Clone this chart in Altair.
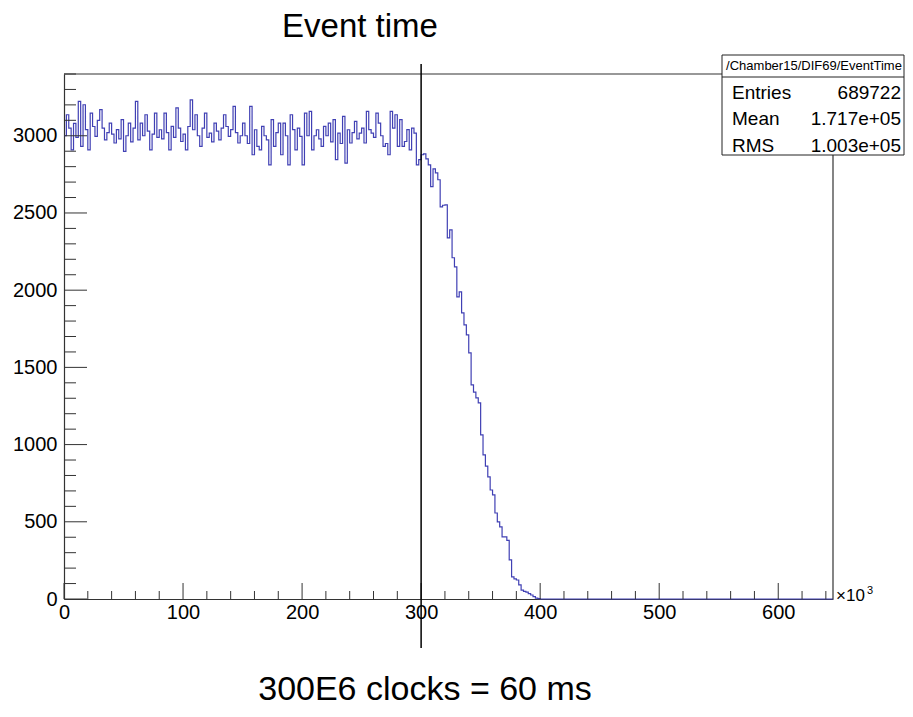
import altair as alt
import pandas as pd

# ---------------- data ----------------
BIN_WIDTH = 2000          # clock units per bin
X_MAX = 646000
Y_MAX = 3400

plateau_counts = [
    3000, 3136, 3050, 2909, 3080, 2990, 3223, 2931, 3201, 3040,
    2909, 3147, 3060, 2996, 3100, 3169, 3050, 2974, 3020, 3082,
    3010, 2953, 3040, 2980, 3104, 2899, 3000, 3082, 2960, 3050,
    3223, 2974, 3082, 3000, 3136, 3030, 2909, 3010, 3147, 2990,
    3039, 2980, 3147, 3020, 2909, 3061, 2990, 3180, 3050, 2963,
    3010, 2909, 3060, 3233, 3039, 3136, 3000, 2931, 3050, 3147,
    2990, 3017, 2960, 3082, 3030, 2974, 3050, 3136, 3060, 2996,
    3040, 3190, 3020, 2953, 3000, 3082, 3000, 2950, 3190, 2877,
    3039, 2931, 2909, 3061, 3000, 2974, 2812, 3104, 2931, 3020,
    3082, 2877, 3082, 3000, 2812, 3136, 3040, 2909, 3050, 2996,
    2812, 3147, 3000, 3158, 2909, 3000, 3039, 2980, 2931, 3061,
    3000, 3082, 2960, 3104, 2845, 3017, 2950, 3125, 2823, 3039,
    2953, 3020, 3093, 2980, 3017, 3050, 2953, 3158, 3040, 3017,
    2990, 3147, 3082, 3000, 2931, 2950, 2877, 3158, 3050, 3136,
    2931, 3104, 2931, 2963, 3040, 2909, 3050, 3017, 2812, 2845,
]
falloff_counts = [
    2877, 2883, 2850, 2812, 2670, 2786, 2760, 2715, 2540, 2550,
    2553, 2339, 2391, 2210, 2151, 1957, 1989, 1853, 1775, 1711,
    1594, 1387, 1340, 1302, 1270, 1063, 933, 860, 791, 706,
    674, 557, 500, 467, 402, 402, 380, 253, 143, 130,
    123, 91, 58, 50, 45, 35, 26, 15, 6, 2,
]
tail_counts = [0] * 123

x_major_ticks = [0, 100000, 200000, 300000, 400000, 500000, 600000]
x_minor_ticks = [v for v in range(20000, 646000, 20000) if v % 100000 != 0]
y_major_ticks = [0, 500, 1000, 1500, 2000, 2500, 3000]
y_minor_ticks = [v for v in range(100, 3401, 100) if v % 500 != 0]

marker_x = 300000

title_text = "Event time"
caption_text = "300E6 clocks = 60 ms"
stats_title = "/Chamber15/DIF69/EventTime"
stats_names = ["Entries", "Mean", "RMS"]
stats_values = ["689722", "1.717e+05", "1.003e+05"]

# ---------------- build ----------------
counts = plateau_counts + falloff_counts + tail_counts
edges = [i * BIN_WIDTH for i in range(len(counts))] + [X_MAX]
hist = pd.DataFrame({"edge": edges, "count": counts + [counts[-1]]})

W, H = 769, 525
FONT = "Liberation Sans"
FRAME = "#333333"

xs = alt.Scale(domain=[0, X_MAX], nice=False, zero=False)
ys = alt.Scale(domain=[0, Y_MAX], nice=False)

x_axis = alt.Axis(
    values=x_major_ticks, labelExpr="format(datum.value/1000, 'd')",
    ticks=False, grid=False, title=None, domainColor=FRAME, domainWidth=1.2,
    labelFont=FONT, labelFontSize=20, labelColor="black", labelPadding=3,
    labelFlush=False, labelOverlap=False)
y_axis = alt.Axis(
    values=y_major_ticks, format="d", ticks=False, grid=False, title=None,
    domainColor=FRAME, domainWidth=1.2,
    labelFont=FONT, labelFontSize=20, labelColor="black", labelPadding=7,
    labelFlush=False, labelOverlap=False)

one = alt.Data(values=[{}])

line = alt.Chart(hist).mark_line(
    interpolate="step-after", color="#4040b4", strokeWidth=1.2
).encode(
    x=alt.X("edge:Q", scale=xs, axis=x_axis),
    y=alt.Y("count:Q", scale=ys, axis=y_axis),
)

def xticks(vals, length):
    return alt.Chart(pd.DataFrame({"t": vals})).mark_rule(color=FRAME, strokeWidth=1).encode(
        x=alt.X("t:Q", scale=xs, axis=x_axis), y=alt.value(H), y2=alt.value(H - length))

def yticks(vals, length):
    return alt.Chart(pd.DataFrame({"t": vals})).mark_rule(color=FRAME, strokeWidth=1).encode(
        y=alt.Y("t:Q", scale=ys, axis=y_axis), x=alt.value(0), x2=alt.value(length))

frame_top = alt.Chart(one).mark_rule(color=FRAME, strokeWidth=1.2).encode(
    x=alt.value(0), x2=alt.value(W), y=alt.value(0))
frame_right = alt.Chart(one).mark_rule(color=FRAME, strokeWidth=1.2).encode(
    x=alt.value(W), y=alt.value(0), y2=alt.value(H))

marker = alt.Chart(pd.DataFrame({"t": [marker_x]})).mark_rule(color="black", strokeWidth=1.5).encode(
    x=alt.X("t:Q", scale=xs, axis=x_axis), y=alt.value(-10), y2=alt.value(574))

box = alt.Chart(one).mark_rect(fill="white", stroke="#222222", strokeWidth=1).encode(
    x=alt.value(658), x2=alt.value(840), y=alt.value(-19), y2=alt.value(81))
box_div = alt.Chart(one).mark_rule(color="#222222", strokeWidth=1).encode(
    x=alt.value(658), x2=alt.value(840), y=alt.value(3))

def txt(s, x, y, size, align="left", baseline="alphabetic"):
    return alt.Chart(one).mark_text(
        text=s, font=FONT, fontSize=size, color="black", align=align, baseline=baseline
    ).encode(x=alt.value(x), y=alt.value(y))

layers = [
    line,
    xticks(x_major_ticks, 16), xticks(x_minor_ticks, 8),
    yticks(y_major_ticks, 23), yticks(y_minor_ticks, 12),
    frame_top, frame_right, marker, box, box_div,
    txt(stats_title, 750, -4, 13, align="center"),
    txt(title_text, 296, -37, 33, align="center"),
    txt(caption_text, 361, 626, 34, align="center"),
    txt("\u00d710", 772, 527, 17),
    txt("3", 803, 520, 11),
]
for i, (n, v) in enumerate(zip(stats_names, stats_values)):
    yb = [25, 51, 78][i]
    layers.append(txt(n, 668, yb, 19))
    layers.append(txt(v, 837, yb, 19, align="right"))

chart = alt.layer(*layers).properties(
    width=W, height=H,
    padding={"left": 56, "top": 66, "right": 72, "bottom": 110},
    autosize=alt.AutoSizeParams(type="none"),
).configure_view(stroke=None)

chart.save("out.html", embed_options={"renderer": "svg", "actions": False})
